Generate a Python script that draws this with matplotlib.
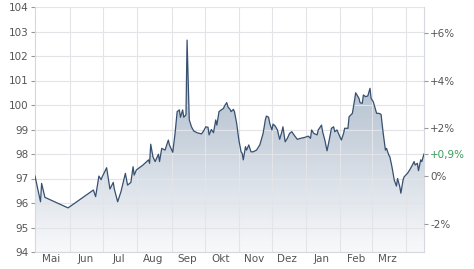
import matplotlib

matplotlib.use("Agg")
import matplotlib.pyplot as plt  # noqa: E402
import matplotlib.dates as mdates  # noqa: E402
import numpy as np  # noqa: E402
import pandas as pd  # noqa: E402
from matplotlib.colors import LinearSegmentedColormap  # noqa: E402

# price series (dates 2023-04-30 .. 2024-04-17)
dates = [
    "2023-04-30", "2023-05-05", "2023-05-06", "2023-05-09", "2023-05-30",
    "2023-06-22", "2023-06-24", "2023-06-27", "2023-06-29", "2023-06-30",
    "2023-07-04", "2023-07-07", "2023-07-10", "2023-07-11", "2023-07-14",
    "2023-07-17", "2023-07-21", "2023-07-23", "2023-07-26", "2023-07-28",
    "2023-07-29", "2023-07-31", "2023-08-06", "2023-08-11", "2023-08-12",
    "2023-08-13", "2023-08-15", "2023-08-17", "2023-08-20", "2023-08-21",
    "2023-08-23", "2023-08-26", "2023-08-29", "2023-08-30", "2023-09-02",
    "2023-09-04", "2023-09-06", "2023-09-08", "2023-09-09", "2023-09-11",
    "2023-09-12", "2023-09-14", "2023-09-15", "2023-09-17", "2023-09-19",
    "2023-09-21", "2023-09-24", "2023-09-28", "2023-09-30", "2023-10-02",
    "2023-10-04", "2023-10-05", "2023-10-07", "2023-10-09", "2023-10-11",
    "2023-10-12", "2023-10-14", "2023-10-16", "2023-10-18", "2023-10-19",
    "2023-10-21", "2023-10-22", "2023-10-24", "2023-10-25", "2023-10-27",
    "2023-10-28", "2023-10-30", "2023-11-01", "2023-11-03", "2023-11-04",
    "2023-11-05", "2023-11-07", "2023-11-08", "2023-11-10", "2023-11-12",
    "2023-11-14", "2023-11-17", "2023-11-20", "2023-11-23", "2023-11-25",
    "2023-11-26", "2023-11-28", "2023-11-29", "2023-12-01", "2023-12-02",
    "2023-12-04", "2023-12-06", "2023-12-08", "2023-12-10", "2023-12-11",
    "2023-12-13", "2023-12-15", "2023-12-17", "2023-12-19", "2023-12-21",
    "2023-12-24", "2023-12-27", "2023-12-31", "2024-01-03", "2024-01-05",
    "2024-01-06", "2024-01-08", "2024-01-11", "2024-01-12", "2024-01-15",
    "2024-01-16", "2024-01-18", "2024-01-20", "2024-01-22", "2024-01-24",
    "2024-01-26", "2024-01-27", "2024-01-29", "2024-01-31", "2024-02-02",
    "2024-02-04", "2024-02-05", "2024-02-08", "2024-02-09", "2024-02-12",
    "2024-02-14", "2024-02-15", "2024-02-18", "2024-02-19", "2024-02-21",
    "2024-02-22", "2024-02-24", "2024-02-26", "2024-02-28", "2024-02-29",
    "2024-03-02", "2024-03-05", "2024-03-07", "2024-03-09", "2024-03-11",
    "2024-03-13", "2024-03-14", "2024-03-16", "2024-03-17", "2024-03-19",
    "2024-03-21", "2024-03-23", "2024-03-24", "2024-03-26", "2024-03-27",
    "2024-03-29", "2024-03-30", "2024-04-02", "2024-04-04", "2024-04-06",
    "2024-04-08", "2024-04-09", "2024-04-11", "2024-04-12", "2024-04-14",
    "2024-04-15", "2024-04-17",
]
prices = [
    97.10, 96.05, 96.80, 96.23, 95.80,
    96.53, 96.26, 97.10, 96.95, 97.07,
    97.44, 96.57, 96.84, 96.57, 96.05,
    96.46, 97.21, 96.73, 96.84, 97.48,
    97.14, 97.35, 97.55, 97.76, 97.62,
    98.40, 97.89, 97.69, 97.99, 97.69,
    98.23, 98.16, 98.57, 98.37, 98.07,
    98.80, 99.73, 99.80, 99.50, 99.80,
    99.50, 99.60, 102.65, 99.39, 99.11,
    98.94, 98.87, 98.82, 98.94, 99.11,
    99.09, 98.78, 99.00, 98.87, 99.39,
    99.18, 99.73, 99.80, 99.86, 99.96,
    100.10, 99.93, 99.82, 99.73, 99.82,
    99.73, 99.25, 98.57, 98.09, 98.03,
    97.76, 98.30, 98.16, 98.37, 98.09,
    98.09, 98.16, 98.37, 98.84, 99.39,
    99.55, 99.50, 99.25, 98.98, 99.22,
    99.14, 98.98, 98.60, 98.91, 99.11,
    98.50, 98.64, 98.84, 98.91, 98.78,
    98.60, 98.64, 98.68, 98.73, 98.64,
    98.98, 98.84, 98.78, 98.98, 99.18,
    98.91, 98.57, 98.13, 98.57, 99.05,
    99.11, 98.91, 98.98, 98.78, 98.57,
    98.84, 99.05, 99.05, 99.52, 99.66,
    100.20, 100.50, 100.27, 100.09, 100.07,
    100.41, 100.34, 100.37, 100.68, 100.27,
    100.13, 99.66, 99.66, 99.62, 98.84,
    98.16, 98.23, 97.96, 97.89, 97.46,
    96.94, 96.69, 97.00, 96.67, 96.40,
    96.94, 97.07, 97.21, 97.35, 97.51,
    97.69, 97.55, 97.62, 97.32, 97.76,
    97.69, 98.00,
]
month_labels = ["Mai", "Jun", "Jul", "Aug", "Sep", "Okt", "Nov", "Dez", "Jan", "Feb", "Mrz"]
pct_ticks = [-2, 0, 2, 4, 6]

x = mdates.date2num(pd.to_datetime(dates))
y = np.array(prices)
base = y[0]

TXT = "#555555"
GRID = "#e2e4e8"
LINE = "#37506f"

fig = plt.figure(figsize=(4.74, 2.69), dpi=100)
ax = fig.add_axes([35 / 474, 1 - 252 / 269, (424 - 35) / 474, (252 - 7) / 269])
ax.set_xlim(x[0], x[-1])
ax.set_ylim(94, 104)

# gradient fill under the line
cmap = LinearSegmentedColormap.from_list("fill", ["#f8f9fb", "#c9d2dd", "#9fb0c4"])
grad = np.linspace(0, 1, 256).reshape(-1, 1)
img = ax.imshow(grad, cmap=cmap, aspect="auto", origin="lower", alpha=0.9,
                extent=[x[0], x[-1], 94, 102.2], zorder=1)
poly = ax.fill_between(x, y, 94, color="none", lw=0)
clip = poly.get_paths()[0]
img.set_clip_path(clip, transform=ax.transData)
ax.plot(x, y, color=LINE, lw=0.9, zorder=3)

# grid: horizontal at every price unit, vertical at month starts
ax.set_yticks(range(94, 105))
month_starts = mdates.date2num(pd.date_range("2023-06-01", "2024-04-01", freq="MS"))
mid_months = mdates.date2num(pd.date_range("2023-05-01", "2024-03-01", freq="MS") + pd.Timedelta(days=14))
ax.set_xticks(month_starts, minor=True)
ax.set_xticks(mid_months)
ax.set_xticklabels(month_labels)
ax.grid(True, axis="y", color=GRID, lw=0.8, zorder=0)
ax.grid(True, axis="x", which="minor", color=GRID, lw=0.8, zorder=0)
ax.tick_params(axis="x", which="both", length=0, labelsize=7.5, colors=TXT, pad=1.5)
ax.tick_params(axis="y", length=3, width=0.8, color="#999999", labelsize=7.5,
               labelcolor=TXT, pad=1.5)
for side, sp in ax.spines.items():
    sp.set_color("#d5d8dd")
    sp.set_linewidth(0.8)
ax.spines["top"].set_visible(False)

# right axis in percent relative to the first price
ax2 = ax.twinx()
ax2.set_ylim((94 / base - 1) * 100, (104 / base - 1) * 100)
last_pct = (y[-1] / base - 1) * 100
ax2.set_yticks(pct_ticks + [last_pct])
labels = [f"{v:+d}%" if v != 0 else "0%" for v in pct_ticks]
labels.append(f"{last_pct:+.1f}%".replace(".", ","))
ax2.set_yticklabels(labels)
ax2.tick_params(axis="y", length=3, width=0.8, color="#999999", labelsize=7.5,
                labelcolor=TXT, pad=1.5)
ax2.get_yticklabels()[-1].set_color("#3a9a5a")
for sp in ax2.spines.values():
    sp.set_visible(False)

fig.savefig("out.png", dpi=100)
